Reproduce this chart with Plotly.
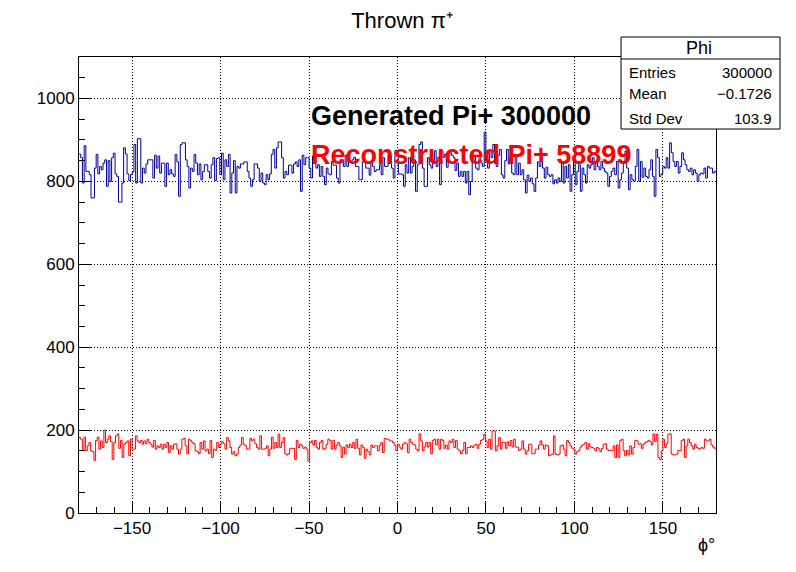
import numpy as np
import plotly.graph_objects as go

title_text = "Thrown π\u207a"
x_label = "ϕ°"
x_range = [-180, 180]
y_range = [0, 1100]
x_ticks = [-150, -100, -50, 0, 50, 100, 150]
y_ticks = [0, 200, 400, 600, 800, 1000]
gen_label = "Generated Pi+ 300000"
rec_label = "Reconstructed Pi+ 58899"
stats_title = "Phi"
stats_names = ["Entries", "Mean", "Std Dev"]
stats_values = ["300000", "\u22120.1726", "103.9"]

blue_counts = [
    866, 857, 796, 886, 824, 824, 816, 760, 760, 832, 865, 818, 836, 828, 844, 852, 788, 850, 800, 857,
    868, 818, 812, 750, 750, 796, 881, 866, 818, 802, 816, 823, 889, 796, 903, 903, 796, 832, 820, 842,
    852, 852, 852, 808, 863, 832, 861, 820, 844, 844, 788, 844, 816, 828, 818, 812, 865, 847, 764, 889,
    893, 893, 852, 836, 784, 832, 824, 865, 844, 816, 842, 804, 824, 840, 840, 824, 808, 840, 857, 802,
    855, 857, 816, 868, 804, 852, 836, 865, 772, 820,
    850, 772, 836, 832, 842, 842, 847, 847, 824, 808, 788, 804, 842, 842, 832, 800, 820, 796, 792, 816,
    804, 818, 865, 877, 832, 881, 895, 895, 857, 808, 824, 816, 839, 839, 820, 842, 847, 836, 852, 776,
    863, 840, 857, 857, 832, 808, 861, 861, 832, 840, 812, 836, 812, 792, 832, 818, 816, 848, 839, 839,
    808, 796, 852, 852, 836, 863, 836, 848, 848, 852, 858, 836, 836, 804, 804, 847, 852, 832, 832, 815,
    848, 836, 824, 828, 828, 840, 816, 857, 836, 836, 863, 863, 832, 808, 874, 874, 818, 818,
    816, 788, 840, 820, 857, 820, 836, 852, 776, 840, 889, 895, 832, 788, 788, 857, 840, 832, 848, 874,
    836, 858, 792, 873, 858, 866, 834, 861, 869, 863, 857, 826, 844, 812, 824, 812, 824, 796, 824, 768,
    800, 848, 863, 832, 828, 861, 844, 836, 919, 848, 832, 874, 857, 889, 844, 836, 863, 877, 816, 808,
    850, 877, 842, 857, 820, 816, 861, 816, 844, 816, 828, 804, 772, 815, 800, 808, 794, 776, 808, 847,
    836, 863, 832, 808, 834, 816, 812, 816, 794, 804, 796, 808, 800,
    844, 796, 836, 808, 840, 776, 816, 852, 792, 824, 840, 776, 832, 816, 796, 840, 832, 840, 857, 828,
    848, 836, 828, 848, 832, 824, 820, 788, 812, 824, 832, 816, 848, 784, 804, 820, 848, 873, 832, 780,
    816, 804, 800, 836, 877, 800, 848, 810, 832, 812, 808, 828, 852, 812, 764, 877, 857, 812, 818, 836,
    832, 857, 832, 893, 869, 848, 836, 848, 820, 836, 869, 852, 840, 828, 824, 832, 816, 828, 820, 800,
    816, 820, 818, 832, 808, 836, 832, 832, 820, 824,
]

red_counts = [
    182, 178, 150, 183, 150, 162, 170, 150, 148, 127, 175, 183, 154, 174, 158, 200, 170, 178, 186, 172,
    129, 170, 186, 191, 156, 175, 134, 166, 170, 174, 138, 178, 154, 154, 186, 174, 170, 175, 166, 174,
    167, 178, 170, 166, 159, 175, 154, 162, 158, 166, 154, 166, 158, 170, 146, 162, 154, 166, 167, 154,
    142, 154, 178, 180, 162, 143, 178, 175, 170, 167, 150, 148, 143, 170, 154, 174, 150, 154, 143, 175,
    134, 154, 151, 170, 158, 166, 172, 167, 154, 182, 174, 158, 142, 148, 138, 142,
    158, 164, 182, 166, 162, 154, 154, 180, 174, 178, 167, 158, 154, 186, 154, 154, 156, 162, 138, 154,
    183, 156, 170, 158, 190, 158, 170, 182, 143, 140, 143, 156, 156, 156, 129, 175, 158, 166, 162, 156,
    159, 154, 125, 170, 174, 164, 175, 158, 154, 170, 175, 154, 156, 166, 178, 175, 154, 175, 154, 164,
    170, 162, 134, 159, 142, 164, 158, 166, 158, 170, 156, 178, 156, 140, 164, 158, 132, 154, 148, 140,
    164, 158, 162, 162, 150, 164, 170, 146, 180, 178, 178, 174, 174, 170, 164, 151,
    166, 159, 154, 166, 170, 167, 146, 178, 170, 166, 164, 154, 150, 191, 174, 150, 159, 170, 159, 170,
    143, 175, 178, 164, 178, 154, 178, 175, 156, 164, 154, 174, 170, 178, 158, 175, 154, 150, 143, 151,
    170, 143, 158, 158, 162, 158, 164, 166, 156, 166, 175, 178, 190, 174, 158, 178, 154, 198, 198, 150,
    162, 182, 154, 170, 170, 156, 172, 162, 175, 159, 178, 159, 159, 151, 154, 174, 154, 142, 150, 166,
    166, 143, 143, 154, 154, 164, 174, 164, 154, 164, 162, 138, 140, 142, 186, 142, 140,
    142, 162, 164, 154, 138, 175, 170, 162, 156, 154, 142, 148, 151, 159, 164, 166, 170, 154, 167, 159,
    158, 156, 150, 158, 156, 148, 156, 166, 167, 154, 150, 151, 150, 162, 134, 164, 134, 175, 178, 151,
    138, 151, 140, 162, 142, 158, 175, 174, 166, 167, 156, 166, 170, 172, 175, 172, 164, 191, 172, 190,
    134, 129, 150, 178, 158, 167, 190, 191, 142, 140, 140, 142, 151, 150, 175, 178, 134, 162, 178, 170,
    162, 154, 166, 158, 156, 154, 158, 156, 178, 174, 174, 178, 164, 159, 156,
]


def step_xy(counts):
    n = len(counts)
    edges = np.linspace(x_range[0], x_range[1], n + 1)
    return edges, list(counts) + [counts[-1]]


bx, by = step_xy(blue_counts)
rx, ry = step_xy(red_counts)

fig = go.Figure()
fig.add_trace(go.Scatter(x=bx, y=by, mode="lines",
                         line=dict(color="#000099", width=1, shape="hv"),
                         hoverinfo="skip", showlegend=False))
fig.add_trace(go.Scatter(x=rx, y=ry, mode="lines",
                         line=dict(color="#ff0000", width=1, shape="hv"),
                         hoverinfo="skip", showlegend=False))

FONT = "Liberation Sans, Arial, Helvetica, sans-serif"

axis_common = dict(
    showgrid=True, gridcolor="black", griddash="1px,2px", gridwidth=1,
    ticks="inside", tickcolor="black", tickwidth=1,
    showline=True, linecolor="black", linewidth=1, mirror=True,
    zeroline=False, tickfont=dict(family=FONT, size=17, color="black"),
)

fig.update_xaxes(range=x_range, tickvals=x_ticks, ticklen=12,
                 minor=dict(dtick=10, tick0=0, ticks="inside", ticklen=6,
                            tickcolor="black", showgrid=False),
                 **axis_common)
fig.update_yaxes(range=y_range, tickvals=y_ticks, ticklen=12,
                 minor=dict(dtick=50, tick0=0, ticks="inside", ticklen=6,
                            tickcolor="black", showgrid=False),
                 **axis_common)

# page body has an 8px margin, so the figure is offset by 8px in the window
OFF = 8
W, H = 796 - OFF, 572 - OFF
# plot area in window pixels
L, R, T, B = 79, 716, 57, 513


def px(xp):
    return (xp - L) / (R - L)


def py(yp):
    return (B - yp) / (B - T)


annotations = [
    dict(x=px(717), y=py(545), xref="paper", yref="paper", text=x_label,
         showarrow=False, xanchor="right", yanchor="middle",
         font=dict(family=FONT, size=18, color="black")),
    dict(x=-50, y=958, xref="x", yref="y", text="<b>" + gen_label + "</b>",
         showarrow=False, xanchor="left", yanchor="middle",
         font=dict(family=FONT, size=27, color="black")),
    dict(x=-50, y=864, xref="x", yref="y", text="<b>" + rec_label + "</b>",
         showarrow=False, xanchor="left", yanchor="middle",
         font=dict(family=FONT, size=27, color="#ff0000")),
    dict(x=px(699), y=py(48), xref="paper", yref="paper", text=stats_title,
         showarrow=False, xanchor="center", yanchor="middle",
         font=dict(family=FONT, size=18, color="black")),
]
row_y = [72, 94, 118]
for name, val, yy in zip(stats_names, stats_values, row_y):
    annotations.append(dict(x=px(627), y=py(yy), xref="paper", yref="paper", text=name,
                            showarrow=False, xanchor="left", yanchor="middle",
                            font=dict(family=FONT, size=15, color="black")))
    annotations.append(dict(x=px(774), y=py(yy), xref="paper", yref="paper", text=val,
                            showarrow=False, xanchor="right", yanchor="middle",
                            font=dict(family=FONT, size=15, color="black")))

shapes = [
    dict(type="rect", xref="paper", yref="paper", x0=px(621), x1=px(780),
         y0=py(129), y1=py(37), line=dict(color="black", width=1), fillcolor="white",
         layer="above"),
    dict(type="line", xref="paper", yref="paper", x0=px(621), x1=px(780),
         y0=py(59), y1=py(59), line=dict(color="black", width=1), layer="above"),
]

fig.update_layout(
    width=W, height=H,
    margin=dict(l=L - OFF, r=W + OFF - R, t=T - OFF, b=H + OFF - B, pad=0),
    paper_bgcolor="white", plot_bgcolor="white",
    title=dict(text=title_text, x=0.5, xanchor="center", y=1 - (20 - OFF) / H, yanchor="middle",
               font=dict(family=FONT, size=22, color="black")),
    annotations=annotations, shapes=shapes, showlegend=False,
)

fig.write_html("out.html")
